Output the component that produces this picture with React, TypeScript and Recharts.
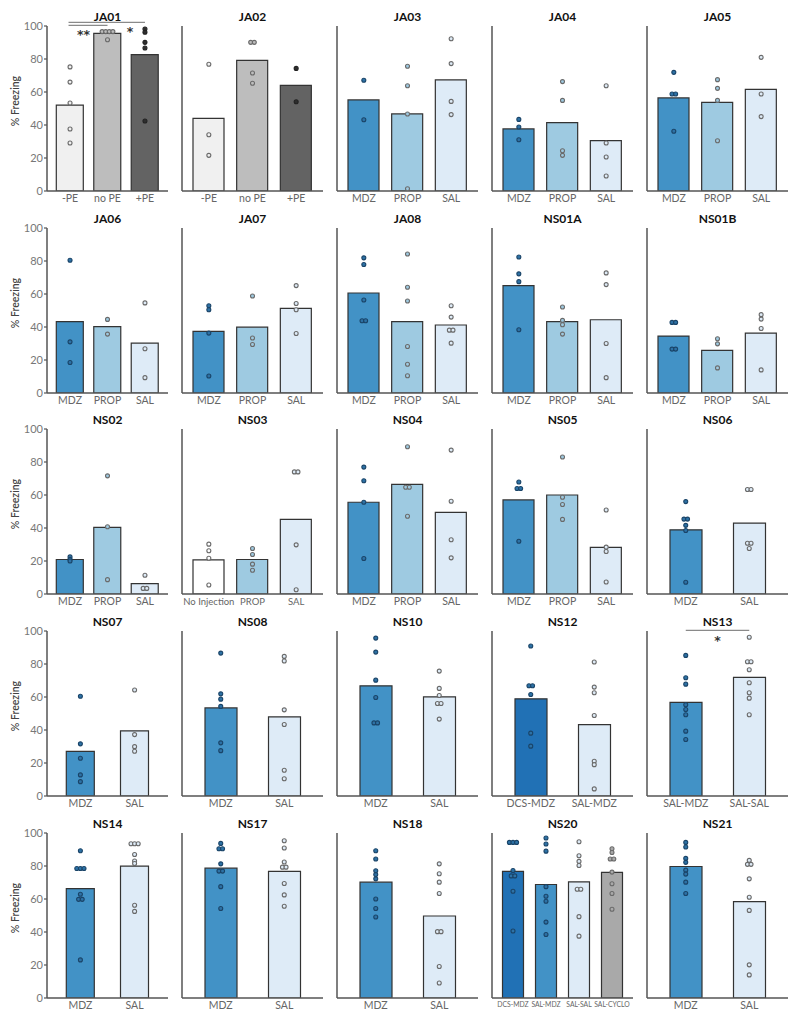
import React from 'react';
import { ComposedChart, Bar, Cell, Scatter, XAxis, YAxis, ReferenceLine, ReferenceDot } from 'recharts';

// categories
const peCats = ['-PE', 'no PE', '+PE'];
const drugCats = ['MDZ', 'PROP', 'SAL'];
const pairCats = ['MDZ', 'SAL'];
const ns03Cats = ['No Injection', 'PROP', 'SAL'];
const ns12Cats = ['DCS-MDZ', 'SAL-MDZ'];
const ns13Cats = ['SAL-MDZ', 'SAL-SAL'];
const ns20Cats = ['DCS-MDZ', 'SAL-MDZ', 'SAL-SAL', 'SAL-CYCLO'];

// bar means (% freezing) and individual animals, per group
const ja01Means = [52.1, 95.5, 82.6];
const ja01Dots = [[75.2, 66, 53.3, 37.6, 29.1], [96.6, 96.6, 96.6, 96.6, 91.7], [98.2, 96.2, 90.1, 86.7, 42.4]];
const ja02Means = [44, 79.2, 64];
const ja02Dots = [[76.8, 34.1, 21.6], [90.1, 90.1, 71.5, 65.3], [74.3, 54.1]];
const ja03Means = [55.2, 46.7, 67.3];
const ja03Dots = [[67.1, 43.2], [75.6, 63.8, 46.7, 1.4], [92.3, 77.2, 54.3, 46.3]];
const ja04Means = [37.6, 41.4, 30.5];
const ja04Dots = [[43.4, 38.8, 31.1], [66.3, 54.9, 24.4, 21.6], [63.8, 29.1, 20.6, 9.1]];
const ja05Means = [56.4, 53.7, 61.6];
const ja05Dots = [[71.9, 58.8, 58.8, 36.2], [67.5, 62.2, 54.9, 30.5], [81, 58.8, 45.1]];
const ja06Means = [43.2, 40.2, 30.2];
const ja06Dots = [[80.5, 31, 18.5], [44.6, 35.7], [54.6, 26.8, 9.3]];
const ja07Means = [37.3, 39.9, 51.3];
const ja07Dots = [[52.9, 50.5, 36.3, 10.3], [58.8, 33.3, 29.4], [65.1, 54.2, 50.5, 36.1]];
const ja08Means = [60.6, 43.2, 41.2];
const ja08Dots = [[81.9, 77.9, 56.4, 43.8, 43.8], [84.2, 64.1, 55.8, 28.2, 17.4, 10.5], [52.9, 46, 38.1, 38.1, 30.2]];
const ns01aMeans = [65.1, 43.2, 44.4];
const ns01aDots = [[82.4, 72.2, 67.5, 38.3], [52.1, 44, 41.4, 35.7], [72.8, 65.7, 30, 9.3]];
const ns01bMeans = [34.5, 25.8, 36.3];
const ns01bDots = [[42.8, 42.8, 26.6, 26.6], [32.9, 29.8, 15.2], [47.5, 44.8, 39.1, 14]];
const ns02Means = [20.9, 40.4, 6.3];
const ns02Dots = [[22.5, 21, 20], [71.6, 40.8, 8.7], [11.4, 3.4, 3.4]];
const ns03Means = [20.7, 20.9, 45.2];
const ns03Dots = [[30.2, 26.2, 21.7, 5.5], [27.6, 23.9, 18.1, 14.4], [74, 74, 29.8, 2.6]];
const ns04Means = [55.6, 66.5, 49.5];
const ns04Dots = [[76.9, 68.6, 55.6, 21.5], [89.2, 64.7, 64.7, 47.1], [87.2, 56.2, 32.9, 21.9]];
const ns05Means = [57, 60, 28.2];
const ns05Dots = [[67.9, 63.9, 63.9, 32], [83, 58.6, 54.2, 45.2], [50.9, 28.4, 25.8, 7.3]];
const ns06Means = [38.9, 43];
const ns06Dots = [[56, 45.4, 45.4, 41.6, 38.5, 7.1], [63.3, 63.3, 30.8, 30.8, 27.6]];
const ns07Means = [27.1, 39.5];
const ns07Dots = [[60.5, 31.6, 22.9, 12.8, 8.7], [64.2, 37.2, 29.9, 27.1]];
const ns08Means = [53.4, 48];
const ns08Dots = [[86.6, 61.9, 58.7, 54.3, 32.2, 27.5], [84.6, 81.8, 52.2, 43.3, 15.6, 10.5]];
const ns10Means = [66.8, 60.1];
const ns10Dots = [[95.7, 87.2, 70.2, 59.7, 44.3, 44.3], [75.7, 65.2, 60.9, 56.1, 56.1, 46.6]];
const ns12Means = [58.9, 43.3];
const ns12Dots = [[90.9, 66.8, 66.8, 61.5, 38.1, 30.2], [81.2, 66, 62.6, 48.8, 21.1, 19, 4.3]];
const ns13Means = [56.7, 71.9];
const ns13Dots = [[85.2, 71.7, 67.8, 55.3, 52.4, 49.2, 39.3, 34.2], [96.2, 81.4, 81.4, 76.5, 68.6, 62.6, 59.3, 49.2]];
const ns14Means = [66.3, 79.9];
const ns14Dots = [[89.2, 78.5, 78.5, 78.5, 62.9, 59.8, 59.8, 23.1], [93.5, 93.5, 93.5, 87, 83, 81.5, 56.2, 52.5]];
const ns17Means = [78.7, 76.7];
const ns17Dots = [[93.7, 90.5, 90.5, 81.3, 76.9, 76.9, 67.5, 54.2], [95.3, 90.9, 82.4, 79.3, 79.3, 69.4, 62.5, 55.6]];
const ns18Means = [70.2, 49.7];
const ns18Dots = [[89.2, 84.2, 77.1, 74.8, 72.2, 60, 54.2, 49.1], [81.3, 75.3, 70.2, 63.3, 40.2, 40.2, 19.1, 9.1]];
const ns20Means = [76.7, 68.8, 70.4, 76.1];
const ns20Dots = [
  [94.3, 94.3, 94.3, 77.3, 74, 74, 64.7, 40.6],
  [97, 93.3, 89, 67.5, 61.7, 58.6, 46, 38.5],
  [94.7, 86.2, 82.8, 80.3, 65.9, 65.9, 49.3, 37.5],
  [90.5, 88.2, 84.2, 84.2, 76.3, 69.2, 63.3, 53.8],
];
const ns21Means = [79.7, 58.4];
const ns21Dots = [[94.3, 91.5, 84.6, 82.2, 77.5, 75.1, 70.2, 63.3], [83.4, 81, 81, 72.2, 61.1, 53.1, 20.1, 14]];

const yTicks = [0, 20, 40, 60, 80, 100];

type PanelDef = { title: string; cats: string[]; means: number[]; dots: number[][] };

const panels: PanelDef[] = [
  { title: 'JA01', cats: peCats, means: ja01Means, dots: ja01Dots },
  { title: 'JA02', cats: peCats, means: ja02Means, dots: ja02Dots },
  { title: 'JA03', cats: drugCats, means: ja03Means, dots: ja03Dots },
  { title: 'JA04', cats: drugCats, means: ja04Means, dots: ja04Dots },
  { title: 'JA05', cats: drugCats, means: ja05Means, dots: ja05Dots },
  { title: 'JA06', cats: drugCats, means: ja06Means, dots: ja06Dots },
  { title: 'JA07', cats: drugCats, means: ja07Means, dots: ja07Dots },
  { title: 'JA08', cats: drugCats, means: ja08Means, dots: ja08Dots },
  { title: 'NS01A', cats: drugCats, means: ns01aMeans, dots: ns01aDots },
  { title: 'NS01B', cats: drugCats, means: ns01bMeans, dots: ns01bDots },
  { title: 'NS02', cats: drugCats, means: ns02Means, dots: ns02Dots },
  { title: 'NS03', cats: ns03Cats, means: ns03Means, dots: ns03Dots },
  { title: 'NS04', cats: drugCats, means: ns04Means, dots: ns04Dots },
  { title: 'NS05', cats: drugCats, means: ns05Means, dots: ns05Dots },
  { title: 'NS06', cats: pairCats, means: ns06Means, dots: ns06Dots },
  { title: 'NS07', cats: pairCats, means: ns07Means, dots: ns07Dots },
  { title: 'NS08', cats: pairCats, means: ns08Means, dots: ns08Dots },
  { title: 'NS10', cats: pairCats, means: ns10Means, dots: ns10Dots },
  { title: 'NS12', cats: ns12Cats, means: ns12Means, dots: ns12Dots },
  { title: 'NS13', cats: ns13Cats, means: ns13Means, dots: ns13Dots },
  { title: 'NS14', cats: pairCats, means: ns14Means, dots: ns14Dots },
  { title: 'NS17', cats: pairCats, means: ns17Means, dots: ns17Dots },
  { title: 'NS18', cats: pairCats, means: ns18Means, dots: ns18Dots },
  { title: 'NS20', cats: ns20Cats, means: ns20Means, dots: ns20Dots },
  { title: 'NS21', cats: pairCats, means: ns21Means, dots: ns21Dots },
];

// styling
const FILL: Record<string, string> = {
  '-PE': '#f0f0f0',
  'no PE': '#bdbdbd',
  '+PE': '#636363',
  MDZ: '#4292c6',
  PROP: '#9ecae1',
  SAL: '#deebf7',
  'No Injection': '#ffffff',
  'DCS-MDZ': '#2171b5',
  'SAL-MDZ': '#4292c6',
  'SAL-SAL': '#deebf7',
  'SAL-CYCLO': '#a9a9a9',
};
const fillOverride: Record<string, string[]> = { NS12: ['#2171b5', '#deebf7'] };
const tickFont: Record<string, number> = { NS20: 6.8, NS03: 9.5 };

const COL_X = [47, 182, 337, 492, 647];
const ROW_Y = [26, 228, 429, 631, 833];
const PLOT_H = 165;
const TOP = 12;
const FONT = 'Lato, "Open Sans", sans-serif';
const AXIS = '#555';

function dotStyle(fill: string) {
  if (fill === '#4292c6' || fill === '#2171b5') return { fill: '#2d72a6', stroke: '#1a4468' };
  if (fill === '#636363') return { fill: '#2e2e2e', stroke: '#222' };
  return { fill, stroke: '#6a6a6a' };
}

function Panel({ p, col, row }: { p: PanelDef; col: number; row: number }) {
  const n = p.cats.length;
  const plotW = col === 0 ? 121 : 141;
  const yW = col === 0 ? 47 : 6;
  const pad = col === 0 ? (n === 3 ? 4.3 : 6.3) : n === 2 ? 7 : n === 4 ? 4.5 : 5;
  const barSize = col === 0 ? (n === 3 ? 27 : 28) : n === 4 ? 21 : n === 2 ? 32 : 31;
  const band = (plotW - 2 * pad) / n;
  const fills = fillOverride[p.title] ?? p.cats.map((c) => FILL[c]);
  const barData = p.cats.map((c, i) => ({ name: c, value: p.means[i] }));

  // spread tied values side by side
  const points: { x: number; y: number; ci: number }[] = [];
  p.dots.forEach((vals, i) => {
    const counts = new Map<number, number>();
    vals.forEach((v) => counts.set(v, (counts.get(v) || 0) + 1));
    const seen = new Map<number, number>();
    vals.forEach((v) => {
      const k = counts.get(v) || 1;
      const j = seen.get(v) || 0;
      seen.set(v, j + 1);
      const offPx = (j - (k - 1) / 2) * 3.6;
      points.push({ x: i + offPx / band, y: v, ci: i });
    });
  });

  const dotShape = (props: any) => {
    const s = dotStyle(fills[props.payload.ci]);
    return <circle cx={props.cx} cy={props.cy} r={2} fill={s.fill} stroke={s.stroke} strokeWidth={1.1} />;
  };

  const width = yW + plotW + 2;
  const height = TOP + PLOT_H + 20 + 2;
  const left = COL_X[col] - yW;
  const top = ROW_Y[row] - TOP;
  const star = { position: 'center' as const, fill: '#333', fontSize: 12.5, fontWeight: 700, fontFamily: 'DejaVu Sans, sans-serif' };

  return (
    <>
      <div
        style={{
          position: 'absolute',
          left: COL_X[col] + plotW / 2,
          top: ROW_Y[row] - 10,
          transform: 'translate(-50%, -50%)',
          fontFamily: FONT,
          fontWeight: 700,
          fontSize: 12,
          color: '#111',
          whiteSpace: 'nowrap',
        }}
      >
        {p.title}
      </div>
      <div style={{ position: 'absolute', left, top }}>
        <ComposedChart width={width} height={height} data={barData} margin={{ top: TOP, right: 2, bottom: 2, left: 0 }}>
          <XAxis
            xAxisId="cat"
            dataKey="name"
            type="category"
            padding={{ left: pad, right: pad }}
            height={20}
            tickLine={false}
            tickSize={0}
            tickMargin={4}
            interval={0}
            tick={{ fill: '#666', fontSize: tickFont[p.title] ?? 10.5, fontFamily: FONT }}
            axisLine={{ stroke: AXIS, strokeWidth: 1.5 }}
          />
          <XAxis
            xAxisId="num"
            type="number"
            dataKey="x"
            domain={[-0.5, n - 0.5]}
            padding={{ left: pad, right: pad }}
            allowDataOverflow
            hide
          />
          <YAxis
            domain={[0, 100]}
            ticks={yTicks}
            interval={0}
            width={yW}
            allowDataOverflow
            tickSize={3}
            tickMargin={1}
            tick={col === 0 ? { fill: '#777', fontSize: 11, fontFamily: FONT } : false}
            tickLine={{ stroke: AXIS, strokeWidth: 1.2 }}
            axisLine={{ stroke: AXIS, strokeWidth: 1.5 }}
          />
          <Bar xAxisId="cat" dataKey="value" barSize={barSize} stroke="#333" strokeWidth={1.2} isAnimationActive={false}>
            {barData.map((d, i) => (
              <Cell key={d.name} fill={fills[i]} />
            ))}
          </Bar>
          <Scatter xAxisId="num" data={points} dataKey="y" shape={dotShape} isAnimationActive={false} />
          {p.title === 'JA01' && (
            <>
              <ReferenceLine xAxisId="num" segment={[{ x: -0.04, y: 102.2 }, { x: 2, y: 102.2 }]} stroke="#8a8a8a" strokeWidth={1.2} ifOverflow="visible" />
              <ReferenceLine xAxisId="num" segment={[{ x: -0.04, y: 100.4 }, { x: 1, y: 100.4 }]} stroke="#8a8a8a" strokeWidth={1.2} ifOverflow="visible" />
              <ReferenceDot xAxisId="num" x={0.36} y={95} r={0} fill="none" stroke="none" ifOverflow="visible" label={{ value: '**', ...star }} />
              <ReferenceDot xAxisId="num" x={1.6} y={96.8} r={0} fill="none" stroke="none" ifOverflow="visible" label={{ value: '*', ...star }} />
            </>
          )}
          {p.title === 'NS13' && (
            <>
              <ReferenceLine xAxisId="num" segment={[{ x: 0, y: 100.4 }, { x: 1, y: 100.4 }]} stroke="#8a8a8a" strokeWidth={1.2} ifOverflow="visible" />
              <ReferenceDot xAxisId="num" x={0.5} y={94.5} r={0} fill="none" stroke="none" ifOverflow="visible" label={{ value: '*', ...star }} />
            </>
          )}
        </ComposedChart>
      </div>
    </>
  );
}

export default function App() {
  return (
    <div style={{ position: 'absolute', left: 0, top: 0, width: 800, height: 1021, background: '#fff' }}>
      {panels.map((p, i) => (
        <Panel key={p.title} p={p} col={i % 5} row={Math.floor(i / 5)} />
      ))}
      {ROW_Y.map((y) => (
        <div
          key={y}
          style={{
            position: 'absolute',
            left: 15,
            top: y + PLOT_H / 2 - 8,
            transform: 'translate(-50%, -50%) rotate(-90deg)',
            fontFamily: FONT,
            fontWeight: 600,
            fontSize: 10.5,
            color: '#444',
            whiteSpace: 'nowrap',
          }}
        >
          % Freezing
        </div>
      ))}
    </div>
  );
}
